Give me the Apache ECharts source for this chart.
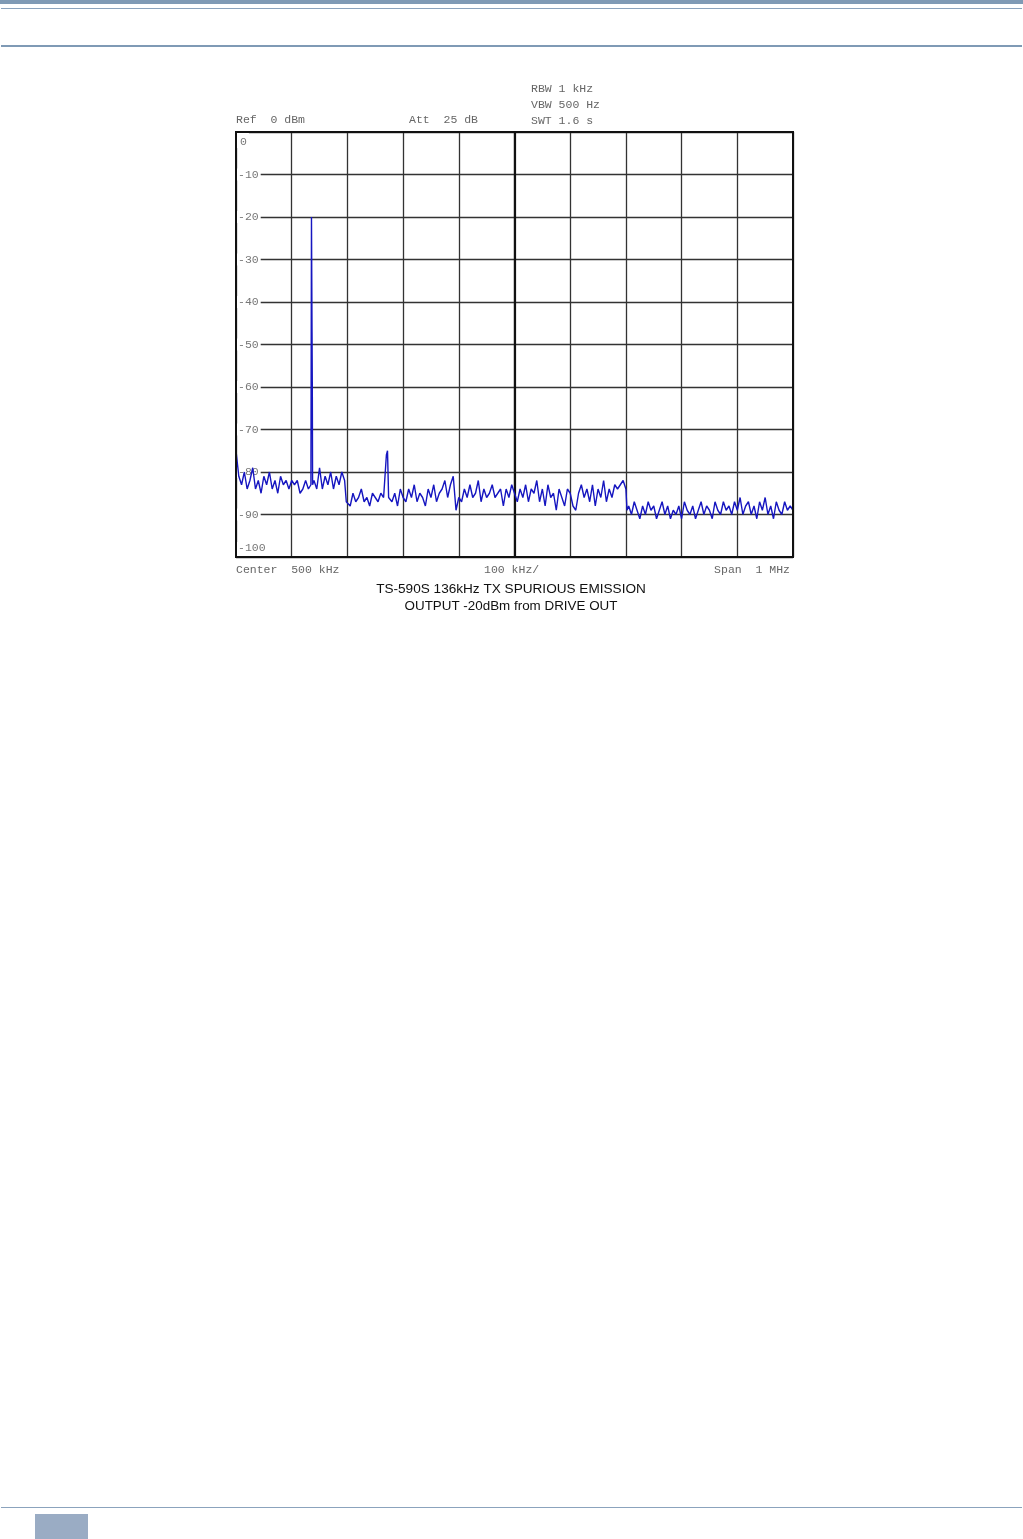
<!DOCTYPE html>
<html><head><meta charset="utf-8">
<script src="https://cdn.jsdelivr.net/npm/echarts@6/dist/echarts.min.js"></script>
<style>html,body{margin:0;padding:0;background:#fff;}#c{width:1023px;height:1539px;}</style>
</head><body><div id="c"></div>
<script>
// Frequency (kHz) and level (dBm)
var freqKHz = [0,5,10,15,20,25,30,35,40,45,50,55,60,65,70,75,80,85,90,95,100,105,110,115,120,125,130,134.5,135.5,136.5,137,137.5,
140,145,150,155,160,165,170,175,180,185,190,195,198,
200,205,210,215,220,225,230,235,240,245,250,255,260,265,268,270,272,274,280,285,290,295,300,305,310,315,320,325,330,335,340,345,350,355,360,365,370,375,380,385,390,395,
400,405,410,415,420,425,430,435,440,445,450,455,460,465,470,475,480,485,490,495,500,505,510,515,520,525,530,535,540,545,550,555,560,565,570,575,580,585,590,595,
600,605,610,615,620,625,630,635,640,645,650,655,660,665,670,675,680,685,690,695,700,702,
705,710,715,720,725,730,735,740,745,750,755,760,765,770,775,780,785,790,795,800,805,810,815,820,825,830,835,840,845,850,855,860,865,870,875,880,885,890,895,
900,905,910,915,920,925,930,935,940,945,950,955,960,965,970,975,980,985,990,995,1000];
var levelDbm = [-75,-81,-83,-80,-84,-82,-79,-84,-82,-85,-81,-83,-80,-84,-82,-85,-81,-83,-82,-84,-82,-83,-82,-85,-84,-82,-84,-83,-20,-47,-60,-83,
-82,-84,-79,-84,-81,-83,-80,-84,-81,-83,-80,-82,-87,
-87,-88,-85,-87,-86,-84,-87,-86,-88,-85,-86,-87,-85,-86,-86,-76,-75,-86,-87,-85,-88,-84,-86,-87,-84,-86,-83,-87,-85,-86,-88,-84,-86,-83,-87,-85,-84,-82,-86,-83,-81,-89,
-86,-87,-84,-86,-83,-86,-85,-82,-87,-84,-86,-85,-83,-86,-85,-84,-88,-84,-86,-83,-85,-87,-84,-86,-83,-87,-84,-85,-82,-87,-84,-88,-83,-86,-85,-89,-84,-86,-88,-84,
-85,-88,-89,-85,-83,-86,-84,-87,-83,-88,-84,-86,-82,-87,-84,-86,-83,-84,-83,-82,-84,-89,
-88,-90,-87,-89,-91,-88,-90,-87,-89,-88,-91,-89,-87,-90,-88,-91,-89,-90,-88,-91,-87,-89,-90,-88,-91,-89,-87,-90,-88,-89,-91,-87,-89,-90,-87,-89,-88,-90,-87,
-89,-86,-90,-88,-87,-90,-88,-91,-87,-89,-86,-90,-88,-91,-87,-89,-90,-87,-89,-88,-89];
var yTicks = [0,-10,-20,-30,-40,-50,-60,-70,-80,-90,-100];

var trace = freqKHz.map(function(f,i){return [f, levelDbm[i]];});
var mono = '"Liberation Mono", "DejaVu Sans Mono", monospace';
var txtCol = '#666';
var fs = 11.5;
var monoFont = fs + 'px ' + mono;
var chart = echarts.init(document.getElementById('c'), null, {renderer:'canvas'});
chart.setOption({
  animation:false,
  backgroundColor:'#fff',
  grid:{left:236, top:132, width:557, height:425, show:false},
  xAxis:{type:'value', min:0, max:1000, interval:100,
    axisLine:{show:false}, axisTick:{show:false}, axisLabel:{show:false},
    splitLine:{show:true, lineStyle:{color:'#333', width:1.3}}},
  yAxis:{type:'value', min:-100, max:0, interval:10,
    axisLine:{show:false}, axisTick:{show:false},
    splitLine:{show:true, lineStyle:{color:'#333', width:1.3}},
    axisLabel:{inside:true, margin:1, color:'#777', fontFamily:mono, fontSize:fs,
      backgroundColor:'#fff', padding:[0,2,0,1],
      verticalAlignMinLabel:'bottom', verticalAlignMaxLabel:'top',
      rich:{t:{padding:[4,0,0,2], fontFamily:mono, fontSize:fs, color:'#777'},
            b:{padding:[0,0,3,0], fontFamily:mono, fontSize:fs, color:'#777'}},
      formatter:function(v){
        if (yTicks.indexOf(v) < 0) return '';
        if (v === 0) return '{t|0}';
        if (v === -100) return '{b|-100}';
        return String(v);}}},
  series:[{type:'line', data:trace, showSymbol:false, symbol:'none',
    lineStyle:{color:'#1616c0', width:1.4}, z:5,
    markLine:{silent:true, symbol:'none', label:{show:false},
      lineStyle:{color:'#111', width:2.2, type:'solid'}, data:[{xAxis:500}]}}],
  graphic:[
    {type:'rect', shape:{x:0,y:0,width:1023,height:4}, style:{fill:'#7f9ab5'}},
    {type:'rect', shape:{x:1,y:8,width:1021,height:1}, style:{fill:'#8ba3bd'}},
    {type:'rect', shape:{x:1,y:45,width:1021,height:2}, style:{fill:'#7f9ab5'}},
    {type:'rect', shape:{x:1,y:1507,width:1021,height:1}, style:{fill:'#8ba3bd'}},
    {type:'rect', shape:{x:35,y:1514,width:53,height:25}, style:{fill:'#9aacc4'}},
    {type:'rect', z:10, shape:{x:236,y:132,width:557,height:425}, style:{fill:null, stroke:'#111', lineWidth:2}},
    {type:'text', left:236, top:114, style:{text:'Ref  0 dBm', font:monoFont, fill:txtCol}},
    {type:'text', left:409, top:114, style:{text:'Att  25 dB', font:monoFont, fill:txtCol}},
    {type:'text', left:531, top:83, style:{text:'RBW 1 kHz', font:monoFont, fill:txtCol}},
    {type:'text', left:531, top:99, style:{text:'VBW 500 Hz', font:monoFont, fill:txtCol}},
    {type:'text', left:531, top:115, style:{text:'SWT 1.6 s', font:monoFont, fill:txtCol}},
    {type:'text', left:236, top:564, style:{text:'Center  500 kHz', font:monoFont, fill:txtCol}},
    {type:'text', left:484, top:564, style:{text:'100 kHz/', font:monoFont, fill:txtCol}},
    {type:'text', right:233, top:564, style:{text:'Span  1 MHz', font:monoFont, fill:txtCol}},
    {type:'text', x:511, y:589, style:{text:'TS-590S 136kHz TX SPURIOUS EMISSION', font:'13.6px "Liberation Sans", Arial, sans-serif', fill:'#111', align:'center', verticalAlign:'middle'}},
    {type:'text', x:511, y:606, style:{text:'OUTPUT -20dBm from DRIVE OUT', font:'13.4px "Liberation Sans", Arial, sans-serif', fill:'#111', align:'center', verticalAlign:'middle'}}
  ]
});
</script></body></html>
